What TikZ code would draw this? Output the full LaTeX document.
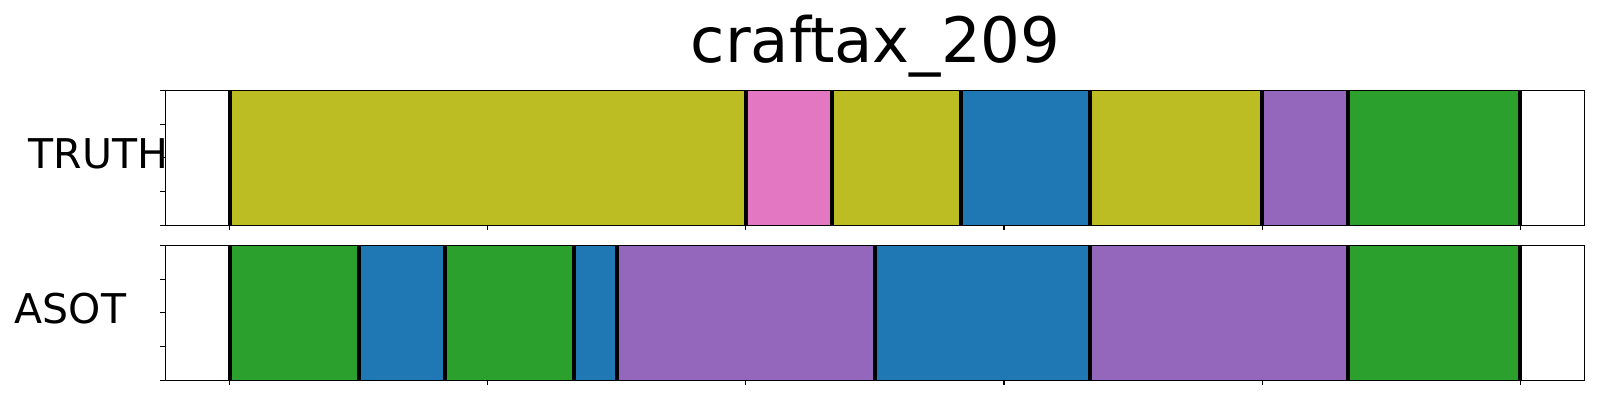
\documentclass[tikz,border=0pt]{standalone}
\usepackage{fontspec}
\setmainfont{DejaVu Sans}
\definecolor{tabolive}{HTML}{BCBD22}
\definecolor{tabpink}{HTML}{E377C2}
\definecolor{tabblue}{HTML}{1F77B4}
\definecolor{tabpurple}{HTML}{9467BD}
\definecolor{tabgreen}{HTML}{2CA02C}
\begin{document}
\begin{tikzpicture}[x=1pt,y=-1pt,
  sepline/.style={black,line width=4pt},
  frame/.style={black,line width=1.1pt},
  tickmark/.style={black,line width=1.1pt},
  lbl/.style={inner sep=0pt,font=\fontsize{41}{48}\selectfont}]
\useasboundingbox (0,0) rectangle (1600,400);
\fill[white] (0,0) rectangle (1600,400);
\node[inner sep=0pt,anchor=base,font=\fontsize{62.5}{70}\selectfont] (title) at (875.5,62.7) {craftax\_209};
\node[lbl,anchor=base west] (truth) at (28.6,168.3) {TRUTH};
\node[lbl,anchor=base west] (asot) at (14.7,323.3) {ASOT};
\begin{scope}[shift={(229.6,0)},x=43.02pt]
  % TRUTH row
  \foreach \a/\b/\c in {0/12/tabolive,12/14/tabpink,14/17/tabolive,17/20/tabblue,20/24/tabolive,24/26/tabpurple,26/30/tabgreen}
    \fill[\c] (\a,90.3) rectangle (\b,225.3);
  \foreach \a in {0,12,14,17,20,24,26,30}
    \draw[sepline] (\a,90.3) -- (\a,225.3);
  % ASOT row
  \foreach \a/\b/\c in {0/3/tabgreen,3/5/tabblue,5/8/tabgreen,8/9/tabblue,9/15/tabpurple,15/20/tabblue,20/26/tabpurple,26/30/tabgreen}
    \fill[\c] (\a,245.3) rectangle (\b,380.3);
  \foreach \a in {0,3,5,8,9,15,20,26,30}
    \draw[sepline] (\a,245.3) -- (\a,380.3);
  % frames
  \draw[frame] (-1.5,90.3) rectangle (31.5,225.3);
  \draw[frame] (-1.5,245.3) rectangle (31.5,380.3);
  % x ticks
  \foreach \t in {0,6,...,30} {
    \draw[tickmark] (\t,225.3) -- ++(0,4.9);
    \draw[tickmark] (\t,380.3) -- ++(0,4.9);
  }
\end{scope}
% y ticks
\foreach \k in {0,...,4} {
  \draw[tickmark] (165.3,90.3+33.75*\k) -- ++(-4.9,0);
  \draw[tickmark] (165.3,245.3+33.75*\k) -- ++(-4.9,0);
}
\end{tikzpicture}
\end{document}
